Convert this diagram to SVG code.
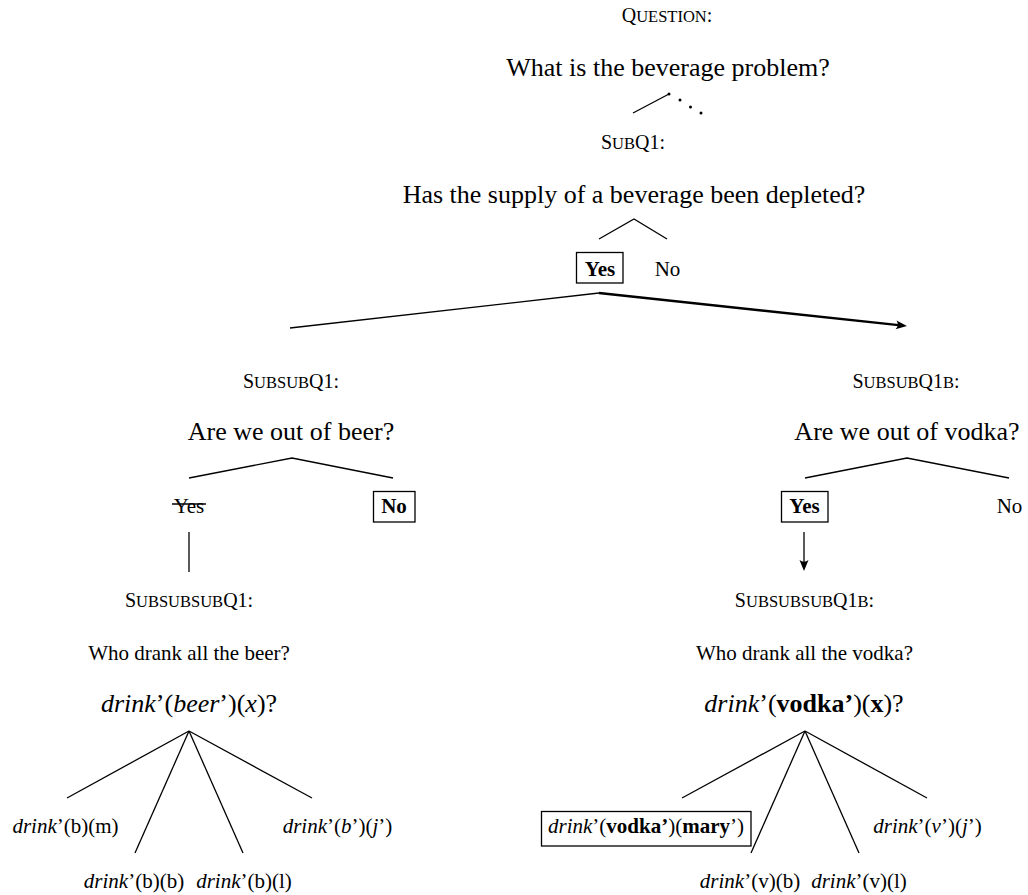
<svg xmlns="http://www.w3.org/2000/svg" width="1028" height="895" viewBox="0 0 1028 895">
  <style>
    .t { font-family: "Liberation Serif", "Times New Roman", serif; fill: #000; }
    .big { font-size: 26px; }
    .med { font-size: 21px; }
    .lab { font-size: 20px; }
    .sc { font-size: 16.5px; }
    .it { font-style: italic; }
    .b { font-weight: bold; }
    .ln { stroke: #000; stroke-width: 1.3; fill: none; }
    .thick { stroke-width: 2.4; }
    .box { stroke: #000; stroke-width: 1.3; fill: none; }
  </style>
  <defs>
    <marker id="tip" markerUnits="userSpaceOnUse" markerWidth="14" markerHeight="12" viewBox="-8 -6 14 12" refX="0" refY="0" orient="auto">
      <path d="M6,0 L-5,-4.5 Q-1.5,0 -5,4.5 Z" fill="#000"/>
    </marker>
  </defs>
  <rect width="1028" height="895" fill="#fff"/>

  <!-- connectors -->
  <g id="connectors">
    <!-- top question to SubQ1 -->
    <line class="ln" x1="633" y1="113" x2="669" y2="94"/>
    <circle cx="669" cy="94" r="1.5"/>
    <circle cx="680" cy="100" r="1.5"/>
    <circle cx="690.5" cy="107" r="1.5"/>
    <circle cx="701" cy="113" r="1.5"/>
    <!-- SubQ1 answers -->
    <polyline class="ln" points="599,239 634,219 667,239"/>
    <!-- Yes branches -->
    <line class="ln" x1="599" y1="293" x2="290" y2="328"/>
    <line class="ln thick" x1="599" y1="293" x2="901" y2="325.4" marker-end="url(#tip)"/>
    <!-- beer answers -->
    <polyline class="ln" points="189,478 292,458 393,478"/>
    <line class="ln" x1="189" y1="532" x2="189" y2="572"/>
    <!-- vodka answers -->
    <polyline class="ln" points="805,478 907,458 1009,478"/>
    <line class="ln" x1="804" y1="532" x2="804" y2="565" marker-end="url(#tip)"/>
    <!-- beer fan -->
    <line class="ln" x1="189" y1="731" x2="67" y2="798"/>
    <line class="ln" x1="189" y1="731" x2="135" y2="853"/>
    <line class="ln" x1="189" y1="731" x2="243" y2="853"/>
    <line class="ln" x1="189" y1="731" x2="312" y2="798"/>
    <!-- vodka fan -->
    <line class="ln" x1="805" y1="731" x2="682" y2="798"/>
    <line class="ln" x1="805" y1="731" x2="751" y2="853"/>
    <line class="ln" x1="805" y1="731" x2="859" y2="853"/>
    <line class="ln" x1="805" y1="731" x2="927" y2="798"/>
  </g>

  <g id="question">
    <text class="t lab" x="667" y="22" text-anchor="middle">Q<tspan class="sc">UESTION</tspan>:</text>
    <text class="t big" x="668" y="76" text-anchor="middle">What is the beverage problem?</text>
  </g>

  <g id="subq1">
    <text class="t lab" x="633" y="149" text-anchor="middle">S<tspan class="sc">UB</tspan>Q1:</text>
    <text class="t big" x="634" y="203" text-anchor="middle">Has the supply of a beverage been depleted?</text>
  </g>

  <g id="subq1-yes">
    <rect class="box" x="576.5" y="252.5" width="46.5" height="30.5"/>
    <text class="t med b" x="600" y="276" text-anchor="middle">Yes</text>
  </g>
  <g id="subq1-no">
    <text class="t med" x="667.5" y="276" text-anchor="middle">No</text>
  </g>

  <g id="subsubq1">
    <text class="t lab" x="291" y="388" text-anchor="middle">S<tspan class="sc">UBSUB</tspan>Q1:</text>
    <text class="t big" x="291" y="440" text-anchor="middle">Are we out of beer?</text>
  </g>
  <g id="beer-yes">
    <text class="t med" x="189" y="513" text-anchor="middle">Yes</text>
    <line class="ln" x1="172" y1="504" x2="206" y2="504"/>
  </g>
  <g id="beer-no">
    <rect class="box" x="373.5" y="491.5" width="41.5" height="30.5"/>
    <text class="t med b" x="394" y="513" text-anchor="middle">No</text>
  </g>

  <g id="subsubq1b">
    <text class="t lab" x="906" y="388" text-anchor="middle">S<tspan class="sc">UBSUB</tspan>Q1<tspan class="sc">B</tspan>:</text>
    <text class="t big" x="907" y="440" text-anchor="middle">Are we out of vodka?</text>
  </g>
  <g id="vodka-yes">
    <rect class="box" x="781.5" y="491.5" width="46.5" height="30.5"/>
    <text class="t med b" x="804.5" y="513" text-anchor="middle">Yes</text>
  </g>
  <g id="vodka-no">
    <text class="t med" x="1009.5" y="513" text-anchor="middle">No</text>
  </g>

  <g id="subsubsubq1">
    <text class="t lab" x="189" y="607" text-anchor="middle">S<tspan class="sc">UBSUBSUB</tspan>Q1:</text>
    <text class="t med" x="189" y="660" text-anchor="middle">Who drank all the beer?</text>
    <text class="t big" x="189" y="712" text-anchor="middle"><tspan class="it">drink</tspan>’(<tspan class="it">beer</tspan>’)(<tspan class="it">x</tspan>)?</text>
  </g>

  <g id="subsubsubq1b">
    <text class="t lab" x="804.5" y="607" text-anchor="middle">S<tspan class="sc">UBSUBSUB</tspan>Q1<tspan class="sc">B</tspan>:</text>
    <text class="t med" x="804.5" y="660" text-anchor="middle">Who drank all the vodka?</text>
    <text class="t big" x="804" y="712" text-anchor="middle"><tspan class="it">drink</tspan>’(<tspan class="b">vodka’</tspan>)(<tspan class="b">x</tspan>)?</text>
  </g>

  <g id="beer-leaf-m">
    <text class="t med" x="65.5" y="833" text-anchor="middle"><tspan class="it">drink</tspan>’(b)(m)</text>
  </g>
  <g id="beer-leaf-b">
    <text class="t med" x="134" y="888" text-anchor="middle"><tspan class="it">drink</tspan>’(b)(b)</text>
  </g>
  <g id="beer-leaf-l">
    <text class="t med" x="244" y="888" text-anchor="middle"><tspan class="it">drink</tspan>’(b)(l)</text>
  </g>
  <g id="beer-leaf-j">
    <text class="t med" x="337.5" y="833" text-anchor="middle"><tspan class="it">drink</tspan>’(<tspan class="it">b</tspan>’)(<tspan class="it">j</tspan>’)</text>
  </g>

  <g id="vodka-leaf-mary">
    <rect class="box" x="541.5" y="811.5" width="209.5" height="34.5"/>
    <text class="t med" x="646" y="833" text-anchor="middle"><tspan class="it">drink</tspan>’(<tspan class="b">vodka’</tspan>)(<tspan class="b">mary</tspan>’)</text>
  </g>
  <g id="vodka-leaf-b">
    <text class="t med" x="750" y="888" text-anchor="middle"><tspan class="it">drink</tspan>’(v)(b)</text>
  </g>
  <g id="vodka-leaf-l">
    <text class="t med" x="859" y="888" text-anchor="middle"><tspan class="it">drink</tspan>’(v)(l)</text>
  </g>
  <g id="vodka-leaf-j">
    <text class="t med" x="927.5" y="833" text-anchor="middle"><tspan class="it">drink</tspan>’(<tspan class="it">v</tspan>’)(<tspan class="it">j</tspan>’)</text>
  </g>
</svg>
